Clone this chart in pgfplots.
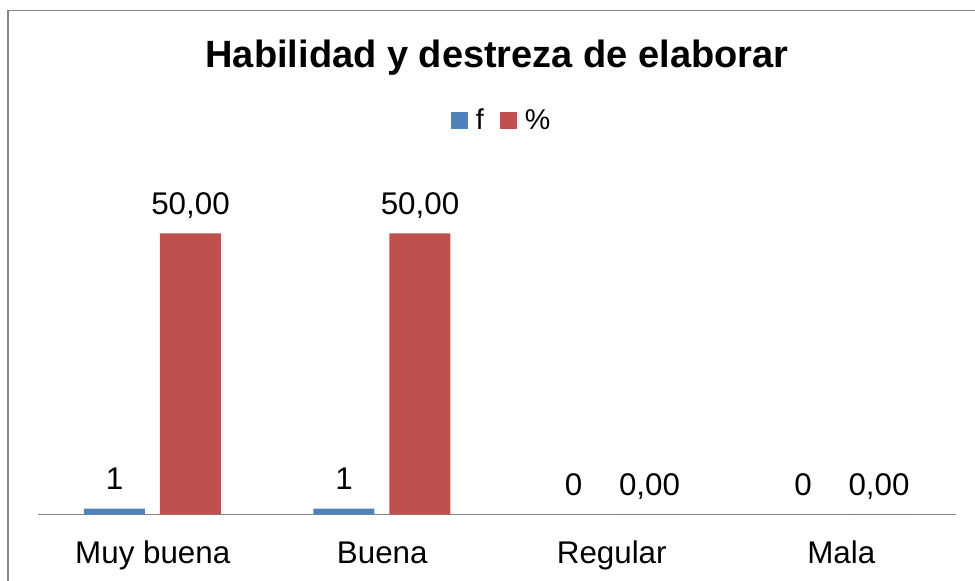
\documentclass[border=0pt]{standalone}
\usepackage{pgfplots}
\pgfplotsset{compat=1.18}
\usepackage{fontspec}
\setmainfont{Liberation Sans}
\definecolor{barblue}{HTML}{4F81BD}
\definecolor{barred}{HTML}{C0504D}
\definecolor{framegray}{HTML}{868686}
\begin{document}
\begin{tikzpicture}
\useasboundingbox (0pt,0pt) rectangle (731.25pt,435.75pt);
\begin{scope}
\clip (0pt,0pt) rectangle (731.25pt,435.75pt);
\draw[framegray,line width=1.1pt] (740pt,427.875pt) -- (6pt,427.875pt) -- (6pt,-10pt);
\end{scope}
\begin{axis}[
  at={(28.5pt,50.025pt)}, anchor=south west,
  scale only axis, width=688.5pt, height=252.9pt,
  ybar, bar width=45.75pt,
  xmin=-0.5, xmax=3.5, ymin=0, ymax=60,
  enlargelimits=false,
  axis x line*=bottom, axis y line=none,
  x axis line style={framegray, line width=0.9pt, -},
  xtick={0,1,2,3}, xticklabels={Muy buena,Buena,Regular,Mala},
  major tick length=0pt,
  xticklabel style={anchor=base, yshift=-36.75pt, font=\fontsize{23.5}{28}\selectfont},
  ytick=\empty,
  title={Habilidad y destreza de elaborar},
  title style={at={(0.5,1.3256)}, anchor=base, yshift=-6pt, font=\bfseries\fontsize{28.5}{34}\selectfont},
  legend style={at={(0.504,1.168)}, anchor=center, draw=none, fill=none,
    legend columns=-1, font=\fontsize{21.5}{26}\selectfont, nodes={inner sep=0pt},
    /tikz/every odd column/.append style={column sep=6pt},
    /tikz/every even column/.append style={column sep=12pt}},
  legend image code/.code={\path[#1,draw=none] (0pt,-6.375pt) rectangle (12.75pt,6.375pt);},
]
\addplot[fill=barblue, draw=none, bar shift=-28.69pt,
  nodes near coords={\pgfmathprintnumber[assume math mode=true]{\pgfplotspointmeta}},
  every node near coord/.append style={anchor=base, yshift=14.25pt, text=black, font=\fontsize{23.5}{28}\selectfont}]
  coordinates {(0,1) (1,1) (2,0) (3,0)};
\addlegendentry{f}
\addplot[fill=barred, draw=none, bar shift=28.31pt,
  nodes near coords={\pgfmathprintnumber[fixed,fixed zerofill,precision=2,use comma,assume math mode=true]{\pgfplotspointmeta}},
  every node near coord/.append style={anchor=base, yshift=14.25pt, text=black, font=\fontsize{23.5}{28}\selectfont}]
  coordinates {(0,50) (1,50) (2,0) (3,0)};
\addlegendentry{\%}
\end{axis}
\end{tikzpicture}
\end{document}
